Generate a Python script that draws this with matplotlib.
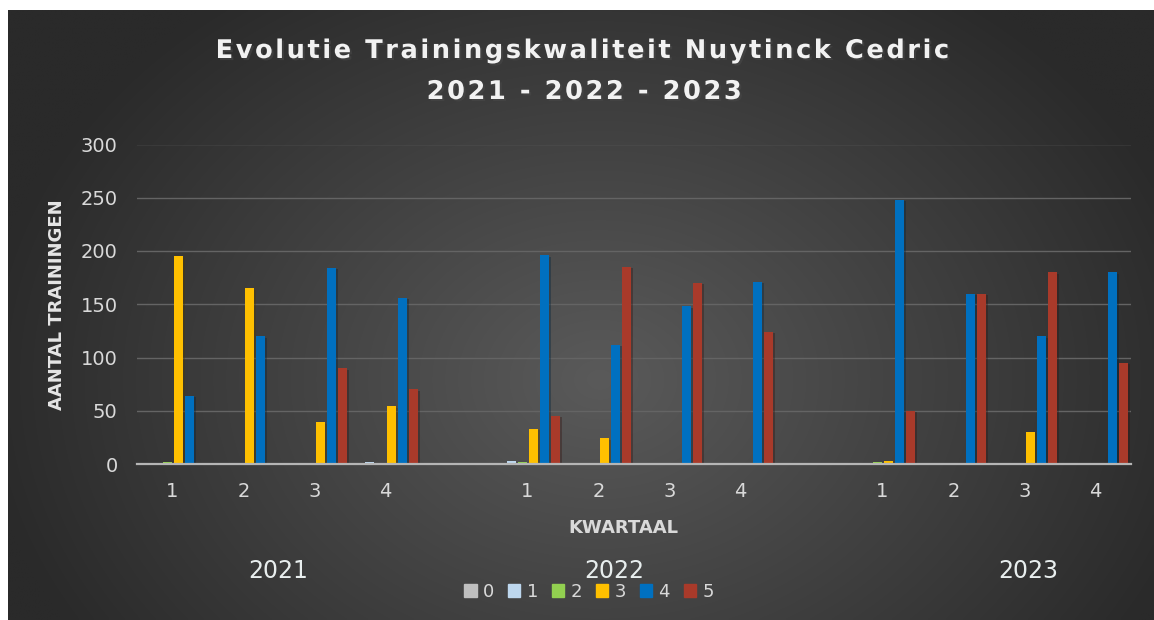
'''
plot
-----------------------------------------------------------
training quality per quarter, 2021 - 2023
'''
# Load packages -------------------------------------------
import numpy as np
import matplotlib
matplotlib.use('Agg')
import matplotlib.pyplot as plt
import matplotlib.patheffects as pe
from matplotlib.patches import Rectangle

# Data ----------------------------------------------------
years = ['2021', '2022', '2023']
quarters = ['1', '2', '3', '4']
levels = ['0', '1', '2', '3', '4', '5']

# Number of trainings per quality level (2021 Q1..Q4, 2022 Q1..Q4, 2023 Q1..Q4):
level_0 = [0, 0, 0, 0, 0, 0, 0, 0, 0, 0, 0, 0]
level_1 = [1, 0, 0, 2, 3, 0, 0, 0, 0, 0, 0, 0]
level_2 = [2, 0, 0, 0, 2, 0, 0, 0, 2, 0, 0, 0]
level_3 = [195, 165, 39, 54, 33, 24, 0, 0, 3, 0, 30, 0]
level_4 = [64, 120, 184, 156, 196, 112, 148, 171, 248, 160, 120, 180]
level_5 = [0, 0, 90, 70, 45, 185, 170, 124, 50, 160, 180, 95]

series = [level_0, level_1, level_2, level_3, level_4, level_5]
colors = ['#BFBFBF', '#BDD7EE', '#92D050', '#FFC000', '#0070C0', '#A93A2A']

# Figure setup --------------------------------------------
W, H = 1154, 620
fig = plt.figure(figsize=(W / 100, H / 100), dpi=100, facecolor='white')

# Background gradient:
bg = fig.add_axes([8 / W, 0, 1 - 8 / W, 1 - 10 / H], zorder=-5)
gx, gy = np.meshgrid(np.linspace(8, W, 400), np.linspace(10, H, 220))
dist = np.sqrt(((gx - 600) / 620) ** 2 + ((gy - 380) / 480) ** 2)
shade = (0x5a - (0x5a - 0x2a) * np.clip(dist, 0, 1)) / 255
bg.imshow(np.dstack([shade, shade, shade]), aspect='auto',
          extent=[0, 1, 0, 1], interpolation='bilinear')
bg.axis('off')

# Plot axis:
ax = fig.add_axes([137 / W, 1 - 464 / H, 994 / W, (464 - 144.5) / H])
ax.patch.set_alpha(0)

# Bars ----------------------------------------------------
# Category positions with an empty slot between years:
xpos = np.array([iy * 5 + iq for iy in range(len(years))
                 for iq in range(len(quarters))])
step = 11 / 71
width = 9 / 71
for i, (vals, col) in enumerate(zip(series, colors)):
    bars = ax.bar(xpos + (i - 2.5) * step, vals, width=width,
                  color=col, zorder=3)
    for b in bars:
        b.set_path_effects([pe.SimplePatchShadow(offset=(2, -1), alpha=0.35),
                            pe.Normal()])

# Axes styling --------------------------------------------
ax.set_xlim(-0.5, 13.5)
ax.set_ylim(0, 300)
ax.set_yticks(np.arange(0, 301, 50))
ax.set_xticks(xpos)
ax.set_xticklabels(quarters * len(years))
ax.grid(axis='y', color='#646464', linewidth=1.0, zorder=0)
for side in ['top', 'right', 'left']:
    ax.spines[side].set_visible(False)
ax.spines['bottom'].set_color('#b5b5b5')
ax.spines['bottom'].set_linewidth(1.6)
ax.spines['bottom'].set_zorder(4)
ax.tick_params(axis='both', length=0, colors='#d9d9d9', labelsize=14)
ax.tick_params(axis='y', pad=14)
ax.tick_params(axis='x', pad=13)

# Text ----------------------------------------------------
shadow = [pe.SimplePatchShadow(offset=(1.5, -1.5), alpha=0.55), pe.Normal()]
hair = '\u200a'
fig.text(584 / W, 1 - 51 / H, hair.join('Evolutie Trainingskwaliteit Nuytinck Cedric'),
         ha='center', va='center', color='#f2f2f2', fontsize=18.5,
         fontweight='bold', path_effects=shadow)
fig.text(585 / W, 1 - 92 / H, hair.join('2021 - 2022 - 2023'),
         ha='center', va='center', color='#f2f2f2', fontsize=18.5,
         fontweight='bold', path_effects=shadow)

fig.text(57 / W, 1 - 305 / H, 'AANTAL TRAININGEN', rotation=90,
         ha='center', va='center', color='#e6e6e6', fontsize=13,
         fontweight='bold')
fig.text(623 / W, 1 - 528 / H, 'KWARTAAL', ha='center', va='center',
         color='#d9d9d9', fontsize=13, fontweight='bold')

# Year labels:
for year, xp in zip(years, [278, 614, 1028]):
    fig.text(xp / W, 1 - 571 / H, year, ha='center', va='center',
             color='#e8eeee', fontsize=17)

# Legend --------------------------------------------------
handles = [Rectangle((0, 0), 1, 1, color=c) for c in colors]
fig.legend(handles, levels, loc='center', bbox_to_anchor=(589 / W, 1 - 592 / H),
           ncol=6, frameon=False, fontsize=13, labelcolor='#d9d9d9',
           handlelength=0.7, handleheight=0.7, handletextpad=0.35,
           columnspacing=0.75)

# Save plot:
plt.savefig('out.png', dpi=100)
